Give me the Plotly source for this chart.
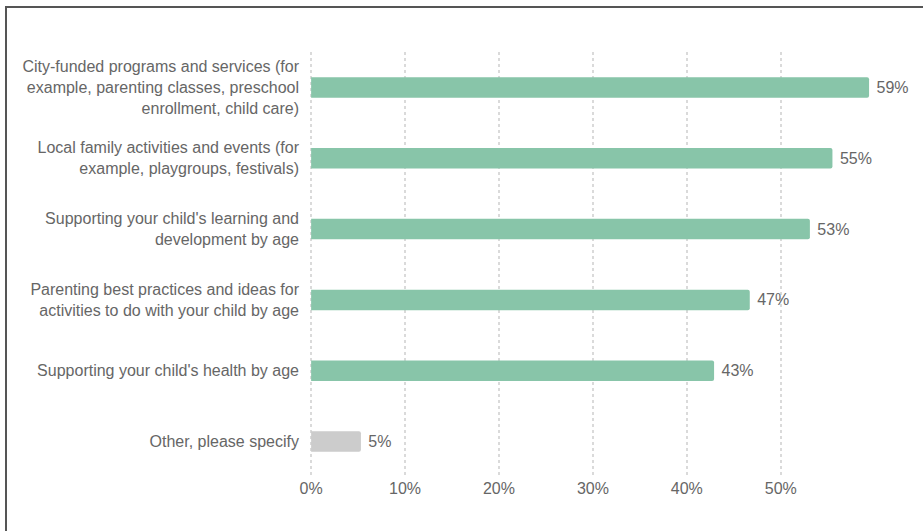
import plotly.graph_objects as go

categories = [
    "City-funded programs and services (for<br>example, parenting classes, preschool<br>enrollment, child care)",
    "Local family activities and events (for<br>example, playgroups, festivals)",
    "Supporting your child's learning and<br>development by age",
    "Parenting best practices and ideas for<br>activities to do with your child by age",
    "Supporting your child's health by age",
    "Other, please specify",
]
values = [59.4, 55.5, 53.1, 46.7, 42.9, 5.3]
value_labels = [" 59%", " 55%", " 53%", " 47%", " 43%", " 5%"]
colors = ["#88c5a9"] * 5 + ["#cccccc"]
tick_vals = [0, 10, 20, 30, 40, 50]
tick_text = ["0%", "10%", "20%", "30%", "40%", "50%"]

W, H = 923, 531
L, R, T, B = 310, 53, 52, 54
pw, ph = W - L - R, H - T - B
FONT = "Liberation Sans, Arial, Helvetica, sans-serif"

fig = go.Figure(go.Bar(
    y=categories, x=values, orientation="h",
    marker=dict(color=colors, cornerradius=2, line=dict(width=0)),
    text=value_labels, textposition="outside", cliponaxis=False,
    textfont=dict(size=16, color="#666666", family=FONT),
    width=0.29,
))

def px_x(p):
    return (p - L) / pw

def px_y(p):
    return (H - B - p) / ph

fig.update_layout(
    width=W, height=H,
    margin=dict(l=L, r=R, t=T, b=B, autoexpand=False),
    paper_bgcolor="white", plot_bgcolor="white",
    showlegend=False,
    font=dict(family=FONT, size=16, color="#666666"),
    xaxis=dict(range=[-0.12, 59.5], tickvals=tick_vals, ticktext=tick_text,
               showgrid=True, gridcolor="#dadada", griddash="dot", gridwidth=1.5,
               zeroline=False, showline=False, ticks="", ticklabelstandoff=0),
    yaxis=dict(autorange="reversed", showgrid=False, zeroline=False, showline=False,
               ticks="", ticklabelstandoff=10),
    shapes=[dict(type="rect", xref="paper", yref="paper",
                 x0=px_x(6), x1=px_x(940), y0=px_y(7), y1=px_y(545),
                 line=dict(color="#555555", width=2), layer="above")],
)

fig.write_html("out.html", config={"displayModeBar": False},
               post_script="document.body.style.margin='0';")
